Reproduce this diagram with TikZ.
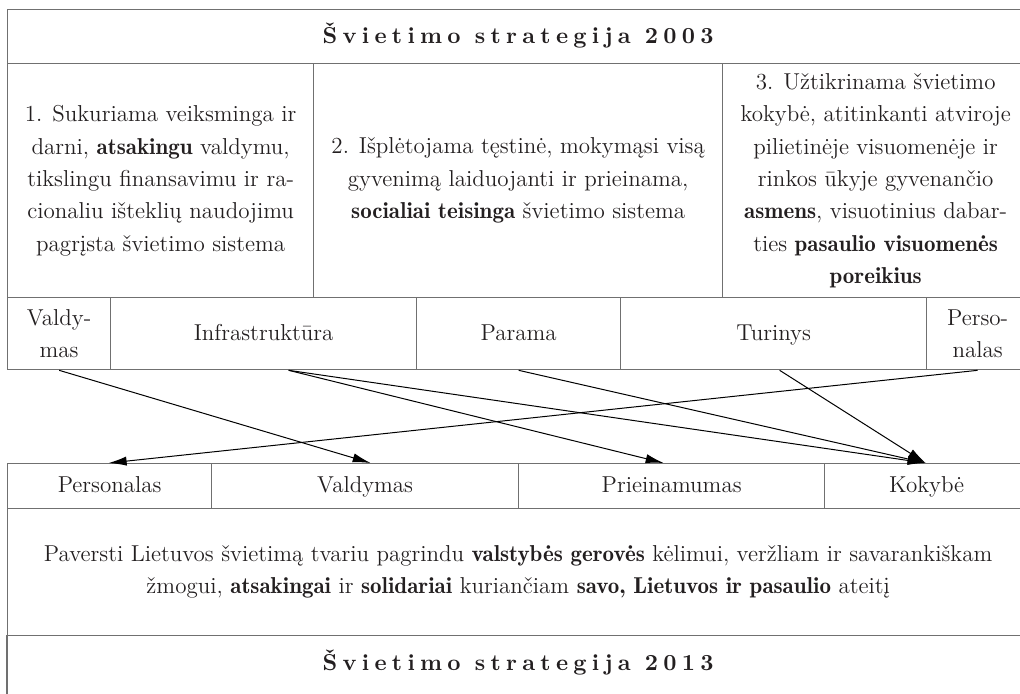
\documentclass[tikz,border=0pt]{standalone}
\usepackage{fontspec}
\usetikzlibrary{arrows.meta}
\newfontface\demi{lmromandemi10-regular.otf}
\newfontface\titlefont[LetterSpace=23]{lmroman10-bold.otf}
\newcommand\semib[1]{{\demi #1}}
\definecolor{linegray}{HTML}{707070}
\definecolor{txt}{HTML}{231F20}
\tikzset{
  cell/.style={draw=linegray, line width=0.65pt, inner sep=0pt, anchor=north west,
    align=center, text=txt, font=\fontsize{11.5}{16.2}\selectfont},
  titlecell/.style={cell, font=\fontsize{11.5}{16.2}\selectfont\titlefont},
  link/.style={draw=black, line width=0.5pt, -{Latex[length=9pt,width=4.6pt]}},
}
\begin{document}
\begin{tikzpicture}[x=0.5pt,y=-0.5pt]
\useasboundingbox (0,0) rectangle (1020,693);
% top table
\node[titlecell, minimum width=510.5pt, minimum height=27pt] (t03) at (7,9) {\strut Švietimo strategija 2003};
\node[cell, minimum width=153pt, minimum height=117pt] (g1) at (7,63)
  {1. Sukuriama veiksminga ir\\ darni, \semib{atsakingu} valdymu,\\ tikslingu finansavimu ir ra-\\cionaliu išteklių naudojimu\\ pagrįsta švietimo sistema};
\node[cell, minimum width=204.5pt, minimum height=117pt] (g2) at (313,63)
  {2. Išplėtojama tęstinė, mokymąsi visą\\ gyvenimą laiduojanti ir prieinama,\\ \semib{socialiai teisinga} švietimo sistema};
\node[cell, minimum width=153pt, minimum height=117pt] (g3) at (722,63)
  {3. Užtikrinama švietimo\\ kokybė, atitinkanti atviroje\\ pilietinėje visuomenėje ir\\ rinkos ūkyje gyvenančio\\ \semib{asmens}, visuotinius dabar-\\ties \semib{pasaulio visuomenės}\\ \semib{poreikius}};
\node[cell, minimum width=51.5pt, minimum height=36pt] (a1) at (7,297) {Valdy-\\mas};
\node[cell, minimum width=153pt, minimum height=36pt] (a2) at (110,297) {\strut Infrastruktūra};
\node[cell, minimum width=102pt, minimum height=36pt] (a3) at (416,297) {\strut Parama};
\node[cell, minimum width=153pt, minimum height=36pt] (a4) at (620,297) {\strut Turinys};
\node[cell, minimum width=51pt, minimum height=36pt] (a5) at (926,297) {Perso-\\nalas};
% bottom table
\node[cell, minimum width=102pt, minimum height=22.5pt] (b1) at (7,463) {\strut Personalas};
\node[cell, minimum width=153.5pt, minimum height=22.5pt] (b2) at (211,463) {\strut Valdymas};
\node[cell, minimum width=153pt, minimum height=22.5pt] (b3) at (518,463) {\strut Prieinamumas};
\node[cell, minimum width=102pt, minimum height=22.5pt] (b4) at (824,463) {\strut Kokybė};
\node[cell, minimum width=510.5pt, minimum height=63.5pt] (mis) at (7,508)
  {Paversti Lietuvos švietimą tvariu pagrindu \semib{valstybės gerovės} kėlimui, veržliam ir savarankiškam\\ žmogui, \semib{atsakingai} ir \semib{solidariai} kuriančiam \semib{savo, Lietuvos ir pasaulio} ateitį};
\node[titlecell, draw=none, minimum width=510.5pt, minimum height=28pt] (t13) at (7,635) {\strut Švietimo strategija 2013};
\draw[draw=linegray, line width=0.65pt] (t13.north west) -- ([yshift=-10pt]t13.south west);
% connectors
\draw[link] (a1.south) -- ([xshift=2.75pt]b2.north);
\draw[link] ([xshift=12.5pt]a2.south) -- ([xshift=-4pt]b3.north);
\draw[link] ([xshift=12.5pt]a2.south) -- ([xshift=-0.5pt]b4.north);
\draw[link] (a3.south) -- ([xshift=-0.5pt]b4.north);
\draw[link] ([xshift=3pt]a4.south) -- ([xshift=-0.5pt]b4.north);
\draw[link] (a5.south) -- ([xshift=-0.5pt]b1.north);
\end{tikzpicture}
\end{document}
